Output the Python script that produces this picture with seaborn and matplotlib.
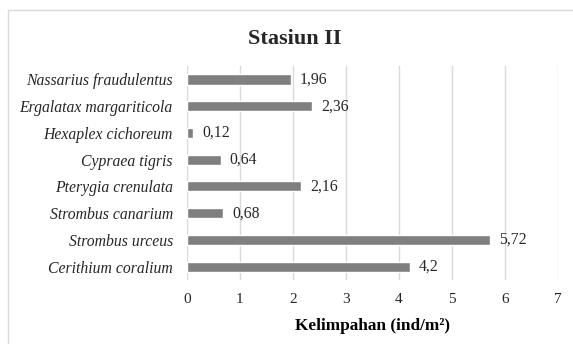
import matplotlib
matplotlib.use("Agg")
import matplotlib.pyplot as plt
import seaborn as sns
import pandas as pd
from matplotlib.lines import Line2D

species = [
    "Nassarius fraudulentus",
    "Ergalatax margariticola",
    "Hexaplex cichoreum",
    "Cypraea tigris",
    "Pterygia crenulata",
    "Strombus canarium",
    "Strombus urceus",
    "Cerithium coralium",
]
abundance = [1.96, 2.36, 0.12, 0.64, 2.16, 0.68, 5.72, 4.2]
value_labels = ["1,96", "2,36", "0,12", "0,64", "2,16", "0,68", "5,72", "4,2"]
x_ticks = [0, 1, 2, 3, 4, 5, 6, 7]

df = pd.DataFrame({"species": species, "abundance": abundance})

sns.set_theme(style="white")
plt.rcParams["font.family"] = ["Liberation Serif", "DejaVu Serif"]

fig = plt.figure(figsize=(5.73, 3.44), dpi=100)
ax = fig.add_axes([0.326, 0.186, 0.648, 0.622])

sns.barplot(data=df, y="species", x="abundance", orient="h",
            color="#7f7f7f", saturation=1, width=0.38, ax=ax, zorder=3)

ax.set_xlim(0, 7)
ax.set_xticks(x_ticks)
ax.set_xticklabels([str(t) for t in x_ticks], fontsize=11, color="#262626")
ax.xaxis.grid(True, color="#d9d9d9", linewidth=1, zorder=0)
ax.yaxis.grid(False)
for s in ax.spines.values():
    s.set_visible(False)
ax.tick_params(axis="x", length=0, pad=9)
ax.tick_params(axis="y", length=0, pad=10)
for lbl in ax.get_yticklabels():
    lbl.set_fontstyle("italic")
    lbl.set_fontsize(11.3)
    lbl.set_color("#262626")

for i, (v, t) in enumerate(zip(abundance, value_labels)):
    ax.text(v + 0.17, i, t, va="center", ha="left", fontsize=11.3, color="#262626")

ax.set_ylabel("")
ax.set_xlabel("Kelimpahan (ind/m²)", fontsize=12.4, fontweight="bold", color="black", labelpad=9)
fig.suptitle("Stasiun II", fontsize=16, fontweight="bold", y=0.916, x=0.515)

# chart frame: only the left and top edges fall inside the canvas
frame_x, frame_y = 0.014, 0.971
fig.lines.append(Line2D([frame_x, frame_x], [0, frame_y], transform=fig.transFigure,
                        color="#d9d9d9", linewidth=1))
fig.lines.append(Line2D([frame_x, 1], [frame_y, frame_y], transform=fig.transFigure,
                        color="#d9d9d9", linewidth=1))

fig.savefig("out.png", dpi=100)
